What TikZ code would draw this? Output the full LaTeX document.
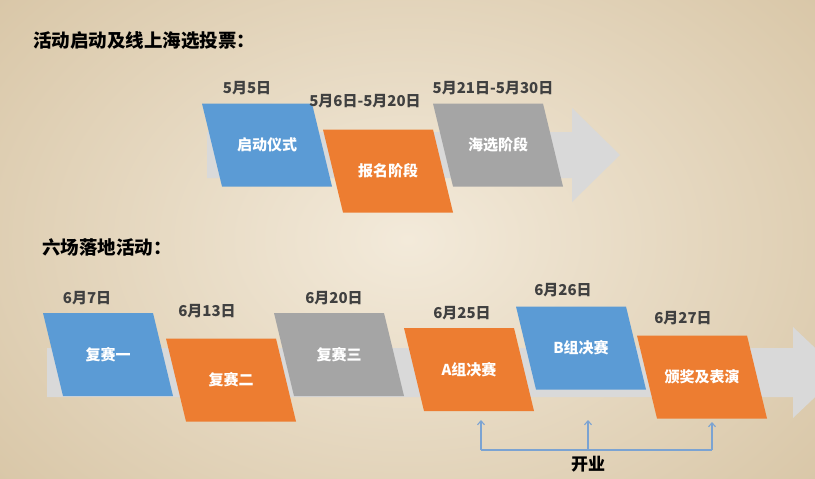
\documentclass[tikz,border=0pt]{standalone}
\usepackage{fontspec}
\setmainfont{Noto Sans CJK SC}
\usepackage{tikz}
\usetikzlibrary{arrows.meta}
\definecolor{StageBlue}{HTML}{5B9BD5}
\definecolor{StageOrange}{HTML}{ED7D31}
\definecolor{StageGray}{HTML}{A5A5A5}
\definecolor{BandGray}{HTML}{D9D9D9}
\definecolor{PaperLight}{HTML}{F3EADA}
\definecolor{PaperDark}{HTML}{D9C7A8}
\definecolor{DateGray}{HTML}{404040}
\definecolor{LinkBlue}{HTML}{7BA3D2}

\begin{document}
\begin{tikzpicture}[
  x=1pt, y=-1pt,
  stage/.style={text=white, inner sep=0pt, font=\bfseries\fontsize{15}{18}\selectfont},
  date/.style={text=DateGray, inner sep=0pt, font=\bfseries\fontsize{15}{18}\selectfont},
  heading/.style={anchor=west, inner sep=0pt, font=\bfseries\fontsize{18.5}{22}\selectfont},
  >={Straight Barb[length=4pt, width=7pt]}
]
  \useasboundingbox (0,0) rectangle (815,479);
  \clip (0,0) rectangle (815,479);
  \shade[inner color=PaperLight, outer color=PaperDark] (-120,-140) rectangle (935,619);

  % grey bands behind the stages
  \fill[BandGray] (207,132) -- (572,132) -- (572,108) -- (620,155) -- (572,202)
    -- (572,178) -- (207,178) -- cycle;
  \fill[BandGray] (47,348) -- (793,348) -- (793,327) -- (841,372.5) -- (793,418)
    -- (793,397) -- (47,397) -- cycle;

  \foreach \cx/\cy/\col/\name/\txt in {
      267/145/StageBlue/qidong/启动仪式,
      388/171/StageOrange/baoming/报名阶段,
      498/145/StageGray/haixuan/海选阶段,
      108/354.5/StageBlue/fusai1/复赛一,
      231/380/StageOrange/fusai2/复赛二,
      339/354.5/StageGray/fusai3/复赛三,
      469/369.5/StageOrange/juesaiA/A组决赛,
      581/348/StageBlue/juesaiB/B组决赛,
      702/377/StageOrange/banjiang/颁奖及表演}{
    \fill[\col] (\cx-65,\cy-41.5) -- (\cx+45,\cy-41.5) -- (\cx+65,\cy+41.5)
      -- (\cx-45,\cy+41.5) -- cycle;
    \node[stage] (\name) at (\cx,\cy) {\txt};
  }

  \node[heading] (title1) at (33,41) {活动启动及线上海选投票：};
  \node[heading] (title2) at (42,247) {六场落地活动：};

  \node[date] (d1) at (247,88) {5月5日};
  \node[date] (d2) at (365,101) {5月6日-5月20日};
  \node[date] (d3) at (493,88) {5月21日-5月30日};
  \node[date] (d4) at (87,298) {6月7日};
  \node[date] (d5) at (207,311) {6月13日};
  \node[date] (d6) at (334,298) {6月20日};
  \node[date] (d7) at (462,313) {6月25日};
  \node[date] (d8) at (563,290) {6月26日};
  \node[date] (d9) at (683,318) {6月27日};

  \coordinate (kA) at (481,450);
  \coordinate (kB) at (588,450);
  \coordinate (kC) at (712,450);
  \coordinate (tA) at (481,420);
  \coordinate (tB) at (588,420);
  \coordinate (tC) at (712,422);
  \draw[LinkBlue, line width=1.1pt] (kA) -- (kC);
  \foreach \k in {A,B,C}
    \draw[->, LinkBlue, line width=1.1pt] (k\k) -- (t\k);
  \node[font=\bfseries\fontsize{17}{20}\selectfont] (kaiye) at (588,464) {开业};
\end{tikzpicture}
\end{document}
